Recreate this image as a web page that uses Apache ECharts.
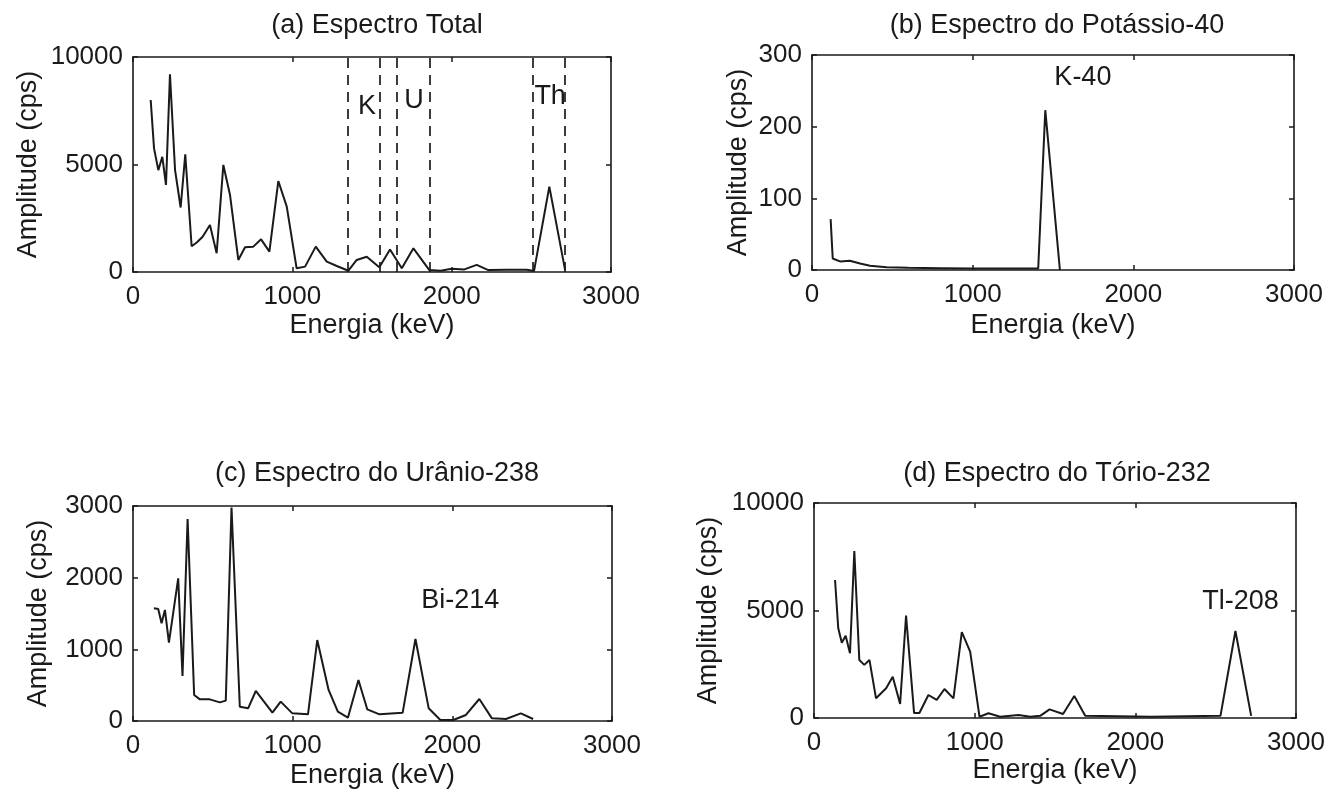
<!DOCTYPE html>
<html>
<head>
<meta charset="utf-8">
<script src="https://cdn.jsdelivr.net/npm/echarts@6/dist/echarts.min.js"></script>
<style>
html,body{margin:0;padding:0;background:#fff;}
#chart{width:1343px;height:793px;}
</style>
</head>
<body>
<div id="chart"></div>
<script>
// ---------- DATA ----------
const titles = ['(a) Espectro Total', '(b) Espectro do Potássio-40', '(c) Espectro do Urânio-238', '(d) Espectro do Tório-232'];
const xTicks = [0, 1000, 2000, 3000];
const yMaxes = [10000, 300, 3000, 10000];
const yIntervals = [5000, 100, 1000, 5000];

// (a) total spectrum
const energyA = [111,132,159,184,207,232,264,299,328,368,400,437,483,525,567,609,661,703,755,804,856,912,965,1027,1080,1147,1216,1279,1352,1404,1467,1546,1613,1687,1760,1860,1930,2000,2080,2157,2230,2350,2471,2517,2613,2712];
const ampA    = [8000,5750,4740,5360,4050,9200,4740,3000,5470,1200,1370,1640,2190,870,4980,3580,560,1150,1180,1520,950,4230,3040,170,250,1180,480,280,60,560,710,220,1050,170,1100,90,60,150,120,330,90,110,100,50,3970,90];
// window limits (dashed lines)
const windowLines = [1350, 1550, 1655, 1860, 2510, 2710];
const windowNames = ['K', 'U', 'Th'];
const windowLabelX = [1469, 1764, 2618];
const windowLabelY = [7674, 7953, 8140];

// (b) potassium-40
const energyB = [116,129,174,236,299,361,465,600,800,1000,1200,1408,1452,1543];
const ampB    = [71,16,12,13,9,6,4,3,2.5,2,2,2,223,0];

// (c) uranium-238
const energyC = [131,158,179,200,225,283,310,342,383,419,481,544,581,617,669,721,769,873,925,998,1096,1154,1225,1283,1346,1412,1467,1544,1689,1769,1852,1925,2006,2085,2169,2248,2336,2429,2506];
const ampC    = [1573,1563,1363,1549,1093,1991,628,2819,363,302,302,260,284,2977,200,177,419,116,270,107,93,1130,433,130,46,572,163,93,116,1144,177,14,14,84,307,37,28,107,28];

// (d) thorium-232
const energyD = [131,151,173,197,224,251,282,313,345,386,449,490,536,573,623,656,712,764,812,868,920,972,1030,1086,1159,1273,1346,1408,1466,1550,1620,1688,2100,2530,2623,2721];
const ampD    = [6419,4170,3500,3830,3010,7770,2700,2470,2700,915,1380,1920,650,4760,230,230,1070,840,1350,915,3990,3090,60,220,60,140,60,100,400,186,1023,107,60,100,4047,100];

// peak annotations
const peakNames = ['K-40', 'Bi-214', 'Tl-208'];
const peakX = [1686, 2050, 2654];
const peakY = [269, 1674, 5395];

// ---------- CHART ----------
const FONT = '"Liberation Sans", Arial, Helvetica, sans-serif';
const INK = '#1a1a1a';
const zip = (xs, ys) => xs.map((x, i) => [x, ys[i]]);
const seriesData = [zip(energyA, ampA), zip(energyB, ampB), zip(energyC, ampC), zip(energyD, ampD)];
const plain = v => String(v);

const grids = [
  {left: 133, top: 57, width: 478, height: 215},
  {left: 812, top: 55, width: 482, height: 215},
  {left: 133, top: 506, width: 479, height: 215},
  {left: 814, top: 503, width: 482, height: 215}
];
const yNameGaps = [91, 60, 81, 92];
const xNameGaps = [40, 42, 41, 39];
const titlePos = [[372, 7], [1052, 7], [372, 455], [1052, 455]];

const xAxes = [], yAxes = [], series = [], titleList = [];
const axisLineStyle = {color: INK, width: 1.6};

grids.forEach((g, i) => {
  titleList.push({
    text: titles[i], left: titlePos[i][0], top: titlePos[i][1], textAlign: 'center',
    textStyle: {fontFamily: FONT, fontSize: 27, fontWeight: 'normal', color: INK}
  });
  const xBase = {
    gridIndex: i, type: 'value', min: xTicks[0], max: xTicks[xTicks.length - 1], interval: xTicks[1] - xTicks[0],
    axisLine: {show: true, onZero: false, lineStyle: axisLineStyle},
    axisTick: {show: true, inside: true, length: 5, lineStyle: {color: INK, width: 1.5}},
    splitLine: {show: false}
  };
  xAxes.push(Object.assign({}, xBase, {
    position: 'bottom',
    axisLabel: {fontFamily: FONT, fontSize: 26, color: INK, margin: 12, formatter: plain},
    name: 'Energia (keV)', nameLocation: 'middle', nameGap: xNameGaps[i],
    nameTextStyle: {fontFamily: FONT, fontSize: 27, color: INK}
  }));
  xAxes.push(Object.assign({}, xBase, {position: 'top', axisLabel: {show: false}}));
  const yBase = {
    gridIndex: i, type: 'value', min: 0, max: yMaxes[i], interval: yIntervals[i],
    axisLine: {show: true, onZero: false, lineStyle: axisLineStyle},
    axisTick: {show: true, inside: true, length: 5, lineStyle: {color: INK, width: 1.5}},
    splitLine: {show: false}
  };
  yAxes.push(Object.assign({}, yBase, {
    position: 'left',
    axisLabel: {fontFamily: FONT, fontSize: 26, color: INK, margin: 10, formatter: plain},
    name: 'Amplitude (cps)', nameLocation: 'middle', nameGap: yNameGaps[i], nameRotate: 90,
    nameTextStyle: {fontFamily: FONT, fontSize: 27, color: INK}
  }));
  yAxes.push(Object.assign({}, yBase, {position: 'right', axisLabel: {show: false}}));

  const s = {
    type: 'line', xAxisIndex: 2 * i, yAxisIndex: 2 * i, data: seriesData[i],
    symbol: 'none', lineStyle: {color: INK, width: 2}, itemStyle: {color: INK}, silent: true
  };
  if (i === 0) {
    s.markLine = {
      silent: true, symbol: ['none', 'none'], label: {show: false},
      lineStyle: {type: [10, 7], color: INK, width: 1.7},
      data: windowLines.map(v => ({xAxis: v}))
    };
  }
  series.push(s);
});

// text annotations placed in data coordinates
const labelStyle = {
  show: true, position: 'inside', formatter: p => p.name,
  fontFamily: FONT, fontSize: 27, color: INK, textBorderWidth: 0, textBorderColor: 'transparent', opacity: 1
};
const annoItem = {color: INK, opacity: 0};
series.push({
  type: 'scatter', xAxisIndex: 0, yAxisIndex: 0, symbolSize: 1, itemStyle: annoItem,
  label: labelStyle, silent: true,
  data: windowNames.map((n, k) => ({name: n, value: [windowLabelX[k], windowLabelY[k]]}))
});
[2, 4, 6].forEach((ax, k) => {
  series.push({
    type: 'scatter', xAxisIndex: ax, yAxisIndex: ax, symbolSize: 1, itemStyle: annoItem,
    label: labelStyle, silent: true,
    data: [{name: peakNames[k], value: [peakX[k], peakY[k]]}]
  });
});

const chart = echarts.init(document.getElementById('chart'), null, {renderer: 'canvas'});
chart.setOption({
  animation: false,
  backgroundColor: '#ffffff',
  title: titleList,
  grid: grids,
  xAxis: xAxes,
  yAxis: yAxes,
  series: series
});
</script>
</body>
</html>
